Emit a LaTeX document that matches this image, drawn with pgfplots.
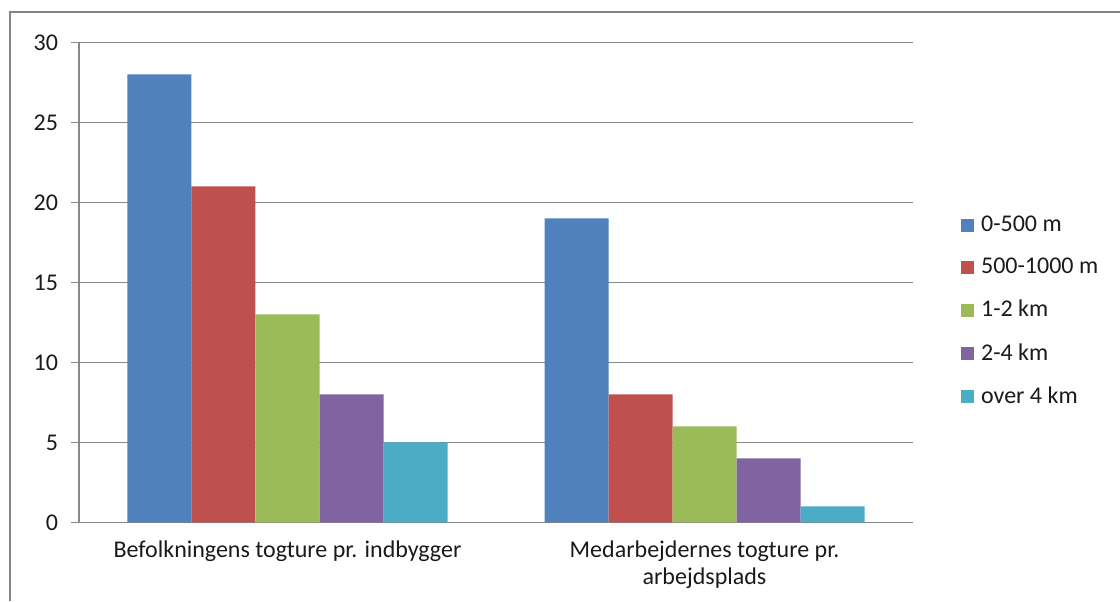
\documentclass[border=0pt]{standalone}
\usepackage{pgfplots}
\pgfplotsset{compat=1.18}
\usepackage{fontspec}
\setmainfont{Carlito}
\definecolor{c1}{HTML}{4F81BD}
\definecolor{c2}{HTML}{C0504D}
\definecolor{c3}{HTML}{9BBB59}
\definecolor{c4}{HTML}{8064A2}
\definecolor{c5}{HTML}{4BACC6}
\definecolor{gridc}{HTML}{888888}
\definecolor{framec}{HTML}{868686}
\definecolor{txt}{HTML}{1A1A1A}
\begin{document}
\begin{tikzpicture}
\useasboundingbox (0,0) rectangle (560pt,300.5pt);
\draw[framec, line width=1.1pt] (5pt,0) -- (5pt,294.5pt) -- (560pt,294.5pt);
\begin{axis}[
  at={(39.5pt,39.3pt)}, anchor=south west,
  scale only axis, width=417pt, height=240pt,
  ybar=0pt, bar width=32pt,
  xmin=0, xmax=2, ymin=0, ymax=30,
  axis x line*=bottom, axis y line*=left,
  axis line style={gridc, line width=0.6pt},
  xtick={0.5,1.5},
  xticklabels={Befolkningens togture pr. indbygger, {Medarbejdernes togture pr.\\arbejdsplads}},
  xticklabel style={align=center, yshift=-1.5pt},
  major x tick style={draw=none},
  extra x ticks={0,1,2}, extra x tick labels={},
  extra x tick style={major tick style={gridc, line width=0.6pt}, major tick length=4pt},
  ytick={0,5,...,30},
  yticklabel style={xshift=-3pt},
  ymajorgrids, major grid style={gridc, line width=0.6pt},
  major y tick style={gridc, line width=0.6pt},
  tick align=outside, major tick length=4pt,
  /pgf/number format/assume math mode=true,
  tick label style={font=\fontsize{12pt}{13.5pt}\selectfont, text=txt},
  legend style={at={(1.050,0.652)}, anchor=north west, draw=none, fill=none,
    font=\fontsize{12pt}{13.5pt}\selectfont, text=txt, row sep=9.8pt,
    nodes={inner sep=1pt}},
  legend cell align=left,
  legend image code/.code={\fill[#1] (0pt,-3.25pt) rectangle (6.5pt,3.25pt);},
]
\addplot[fill=c1, draw=none] coordinates {(0.5,28) (1.5,19)};
\addplot[fill=c2, draw=none] coordinates {(0.5,21) (1.5,8)};
\addplot[fill=c3, draw=none] coordinates {(0.5,13) (1.5,6)};
\addplot[fill=c4, draw=none] coordinates {(0.5,8) (1.5,4)};
\addplot[fill=c5, draw=none] coordinates {(0.5,5) (1.5,1)};
\legend{\hspace{2.5pt}0-500 m, \hspace{2.5pt}500-1000 m, \hspace{2.5pt}1-2 km, \hspace{2.5pt}2-4 km, \hspace{2.5pt}over 4 km}
\end{axis}
\end{tikzpicture}
\end{document}
